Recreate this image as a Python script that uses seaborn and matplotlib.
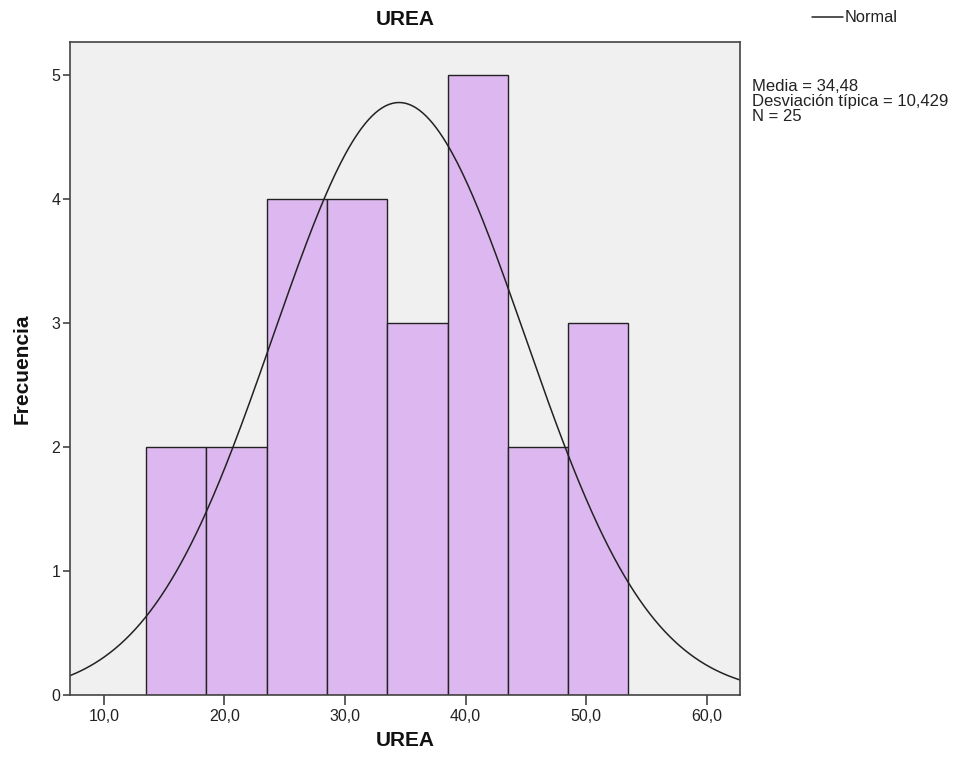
import numpy as np
import pandas as pd
import matplotlib
matplotlib.use("Agg")
import matplotlib.pyplot as plt
import seaborn as sns

# Data
bin_edges = [13.5, 18.5, 23.5, 28.5, 33.5, 38.5, 43.5, 48.5, 53.5]
counts = [2, 2, 4, 4, 3, 5, 2, 3]
mean_val = 34.48
sd_val = 10.429
n_val = 25
x_ticks = [10, 20, 30, 40, 50, 60]
x_tick_labels = ["10,0", "20,0", "30,0", "40,0", "50,0", "60,0"]
y_ticks = [0, 1, 2, 3, 4, 5]

sns.set_style("white")
plt.rcParams['font.family'] = ['Liberation Sans', 'DejaVu Sans']

fig = plt.figure(figsize=(9.57, 7.67), dpi=100)
ax = fig.add_axes([70/957, 1-695/767, 670/957, 653/767])
ax.set_facecolor("#F0F0F0")

centers = [(bin_edges[i] + bin_edges[i+1]) / 2 for i in range(len(counts))]
df = pd.DataFrame({"x": centers, "w": counts})
sns.histplot(data=df, x="x", weights="w", bins=bin_edges, ax=ax,
             color="#DDB8F0", alpha=1.0, edgecolor="#222222", linewidth=1.0)

xmin, xmax = 7.2, 62.75
xs = np.linspace(xmin, xmax, 400)
bw = bin_edges[1] - bin_edges[0]
ys = n_val * bw / (sd_val * np.sqrt(2 * np.pi)) * np.exp(-0.5 * ((xs - mean_val) / sd_val) ** 2)
sns.lineplot(x=xs, y=ys, ax=ax, color="#222222", linewidth=1.1)

ax.set_xlim(xmin, xmax)
ax.set_ylim(0, 5.27)
ax.set_xticks(x_ticks)
ax.set_xticklabels(x_tick_labels, fontsize=11.5, color="#222222")
ax.set_yticks(y_ticks)
ax.set_yticklabels([str(v) for v in y_ticks], fontsize=11.5, color="#222222")
ax.tick_params(axis="x", direction="out", length=7, width=1.2, color="#444444", bottom=True, pad=3)
ax.tick_params(axis="y", direction="out", length=5, width=1.2, color="#444444", left=True, pad=2)
for s in ax.spines.values():
    s.set_color("#444444")
    s.set_linewidth(1.2)

ax.set_xlabel("UREA", fontsize=15, fontweight="bold", labelpad=5, color="#111111")
ax.set_ylabel("Frecuencia", fontsize=15, fontweight="bold", labelpad=14, color="#111111")
ax.set_title("UREA", fontsize=15, fontweight="bold", pad=12, color="#111111")

# Legend-like entry
fig.add_artist(plt.Line2D([812/957, 843/957], [1-17/767, 1-17/767], color="#222222", linewidth=1.1))
fig.text(845/957, 1-17/767, "Normal", fontsize=11.8, va="center", ha="left", color="#222222")
fig.text(752/957, 1-79/767, "Media = 34,48\nDesviación típica = 10,429\nN = 25",
         fontsize=12, va="top", ha="left", color="#222222", linespacing=0.98)

fig.savefig("out.png", dpi=100)
